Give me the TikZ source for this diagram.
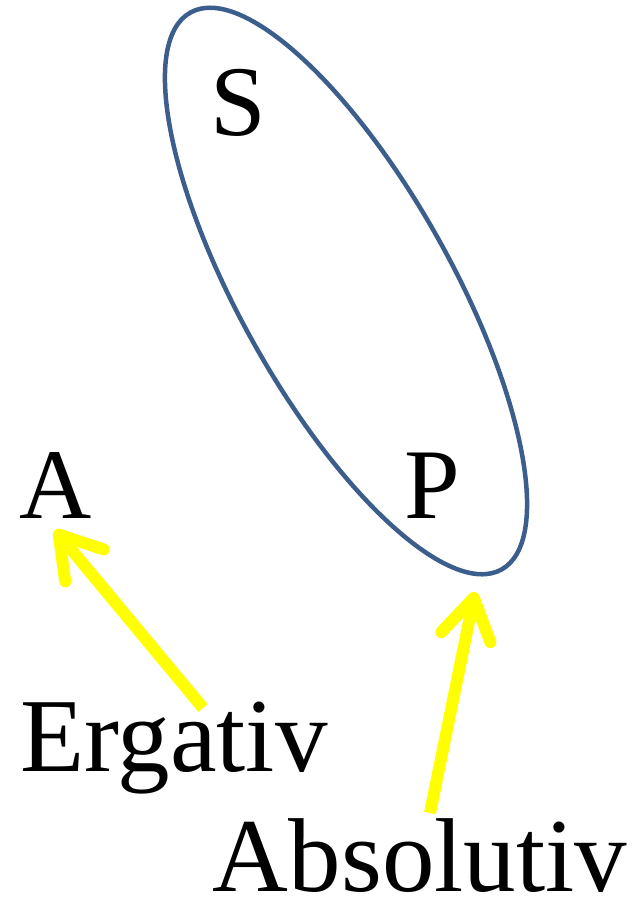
\documentclass[tikz,border=0pt]{standalone}
\usepackage{fontspec}
\setmainfont{Liberation Serif}
\usetikzlibrary{shapes.geometric,arrows.meta}
\definecolor{ellblue}{HTML}{3C5E8C}
\definecolor{arryellow}{HTML}{FFFF00}
\tikzset{
  letter/.style={font=\fontsize{100}{100}\selectfont, anchor=base, inner sep=0pt},
  caselabel/.style={font=\fontsize{105}{105}\selectfont, anchor=base, inner sep=0pt},
  yarrow/.style={draw=arryellow, line width=12pt, line cap=butt,
    -{Straight Barb[length=40pt, width=50pt, round]}},
}
\begin{document}
\begin{tikzpicture}[x=1pt,y=1pt]
\useasboundingbox (0,0) rectangle (636,-908);
\node[ellipse, draw=ellblue, line width=4.5pt, minimum width=638pt, minimum height=212pt,
  inner sep=0pt, rotate=-60.8] (ell) at (346,-291) {};
\node[letter] (S) at (238,-135) {S};
\node[letter] (A) at (56,-518) {A};
\node[letter] (P) at (432,-518) {P};
\node[caselabel] (erg) at (174,-771) {Ergativ};
\node[caselabel] (abs) at (420,-891) {Absolutiv};
\coordinate (tailE) at (203,-708);
\coordinate (tipE) at (55,-530);
\coordinate (tailA) at (430,-813);
\coordinate (tipA) at (475,-592);
\draw[yarrow] (tailE) -- (tipE);
\draw[yarrow] (tailA) -- (tipA);
\end{tikzpicture}
\end{document}
